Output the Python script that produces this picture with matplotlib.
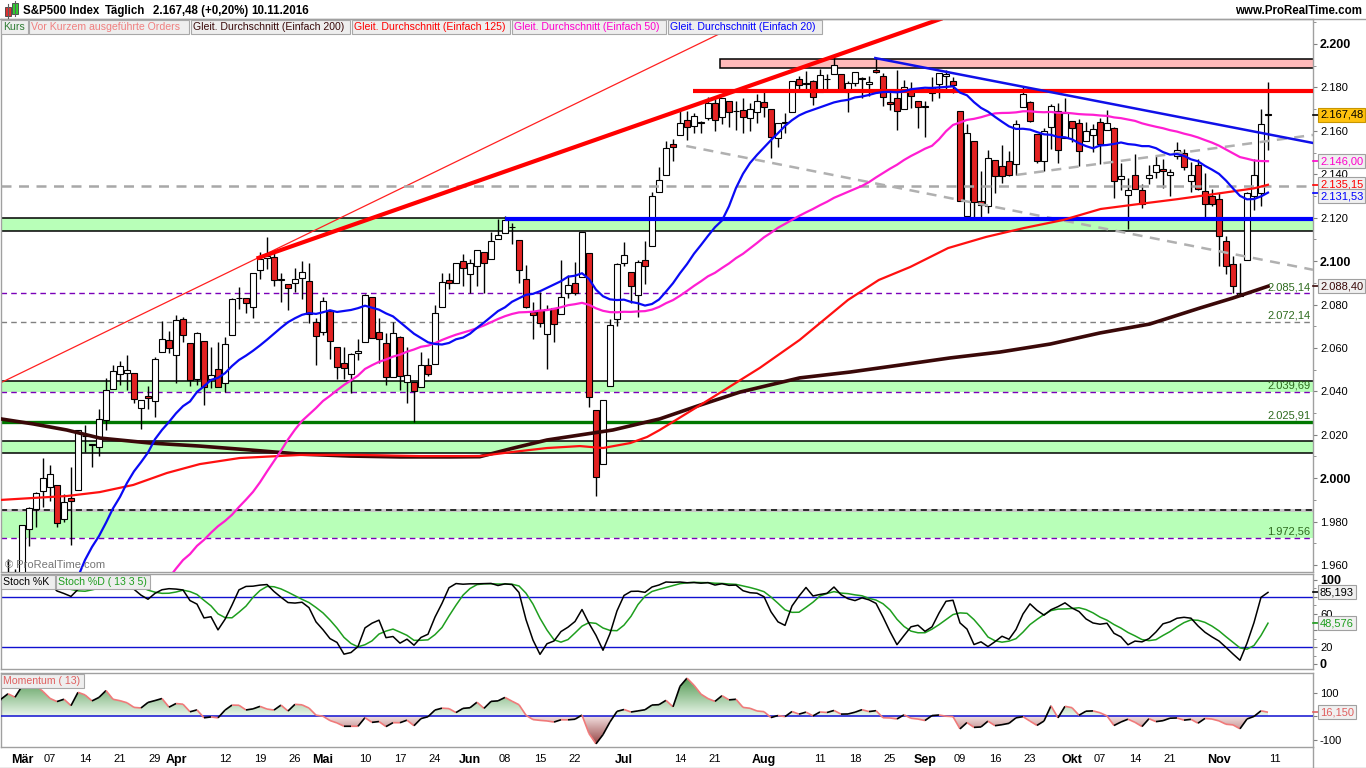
# sp500_chart.py
import numpy as np
import pandas as pd
import matplotlib
matplotlib.use("Agg")
import matplotlib.pyplot as plt
import matplotlib.transforms as mtransforms
from matplotlib.collections import LineCollection
from matplotlib.colors import LinearSegmentedColormap
from matplotlib.patches import PathPatch, Rectangle
from matplotlib.path import Path

plt.rcParams["font.family"] = ["Liberation Sans", "DejaVu Sans"]

W, H = 1366, 768

# =============================
# Kursdaten S&P 500 (Eröffnung, Hoch, Tief, Schluss)
# =============================
jan_close = [2012.66, 2016.71, 1990.26, 1943.09, 1922.03, 1923.67, 1938.68, 1890.28,
             1921.84, 1880.33, 1881.33, 1859.33, 1868.99, 1906.90, 1877.08, 1903.63,
             1882.95, 1893.36, 1940.24]

feb_ohlc = [
    (1936.94, 1947.20, 1920.03, 1939.38), (1935.26, 1935.26, 1897.29, 1903.03),
    (1907.07, 1918.01, 1872.23, 1912.53), (1911.67, 1927.35, 1900.52, 1915.45),
    (1913.07, 1913.07, 1872.65, 1880.05), (1873.25, 1873.25, 1828.46, 1853.44),
    (1848.46, 1868.25, 1834.94, 1852.21), (1857.10, 1881.60, 1850.32, 1851.86),
    (1847.00, 1847.00, 1810.10, 1829.08), (1833.40, 1864.78, 1833.40, 1864.78),
    (1871.44, 1895.77, 1871.44, 1895.58), (1898.80, 1930.68, 1898.80, 1926.82),
    (1927.57, 1930.00, 1915.09, 1917.83), (1916.74, 1918.78, 1902.17, 1917.78),
    (1924.44, 1946.70, 1924.44, 1945.50), (1942.38, 1942.38, 1919.44, 1921.27),
    (1917.56, 1932.08, 1891.00, 1929.80), (1931.87, 1951.83, 1925.41, 1951.70),
    (1954.95, 1962.96, 1945.78, 1948.05), (1947.13, 1958.27, 1931.81, 1932.23),
]
mar_ohlc = [
    (1937.09, 1978.35, 1937.09, 1978.35), (1976.60, 1986.51, 1968.80, 1986.45),
    (1985.60, 1993.69, 1977.37, 1993.40), (1994.01, 2009.13, 1986.77, 1999.99),
    (1996.11, 2006.12, 1989.38, 2001.76), (1996.88, 1996.88, 1977.43, 1979.26),
    (1981.44, 1992.69, 1979.84, 1989.26), (1990.97, 2005.08, 1969.25, 1989.57),
    (1994.71, 2022.37, 1994.71, 2022.19), (2019.27, 2024.57, 2012.05, 2019.64),
    (2015.27, 2015.94, 2005.23, 2015.93), (2014.24, 2032.02, 2010.04, 2027.22),
    (2026.90, 2046.24, 2022.16, 2040.59), (2041.16, 2052.36, 2041.16, 2049.58),
    (2047.88, 2053.91, 2043.14, 2051.60), (2048.64, 2056.60, 2040.57, 2049.80),
    (2048.55, 2048.55, 2034.86, 2036.71), (2032.48, 2036.04, 2022.49, 2035.94),
    (2037.89, 2042.67, 2031.96, 2037.05), (2035.75, 2055.91, 2028.31, 2055.01),
    (2058.27, 2072.21, 2058.27, 2063.95), (2063.77, 2067.92, 2057.46, 2059.74),
]
apr_ohlc = [
    (2056.62, 2075.07, 2043.98, 2072.78), (2073.19, 2074.02, 2062.57, 2066.13),
    (2062.50, 2062.50, 2042.56, 2045.17), (2045.56, 2067.33, 2043.09, 2066.66),
    (2063.01, 2063.01, 2033.80, 2041.91), (2045.54, 2060.63, 2041.69, 2047.60),
    (2050.23, 2062.93, 2041.88, 2041.99), (2043.72, 2065.05, 2039.74, 2061.72),
    (2065.92, 2083.18, 2065.92, 2082.42), (2082.89, 2087.84, 2078.13, 2082.78),
    (2083.10, 2083.22, 2076.31, 2080.73), (2078.83, 2094.66, 2073.65, 2094.34),
    (2096.05, 2104.05, 2091.68, 2100.80), (2101.52, 2111.05, 2096.32, 2102.40),
    (2102.09, 2103.78, 2088.52, 2091.48), (2091.49, 2094.32, 2081.20, 2091.58),
    (2089.37, 2089.37, 2077.52, 2087.79), (2089.84, 2096.87, 2085.80, 2091.70),
    (2092.33, 2099.89, 2082.31, 2095.15), (2090.93, 2099.30, 2071.62, 2075.81),
    (2071.82, 2073.85, 2052.28, 2065.30),
]
may_ohlc = [
    (2067.17, 2083.42, 2066.11, 2081.43), (2077.18, 2077.18, 2054.89, 2063.37),
    (2060.30, 2060.30, 2045.55, 2051.12), (2052.95, 2060.23, 2045.77, 2050.63),
    (2047.77, 2057.72, 2039.45, 2057.14), (2057.55, 2064.15, 2054.31, 2058.69),
    (2062.63, 2084.87, 2062.63, 2084.39), (2083.29, 2083.29, 2064.46, 2064.46),
    (2067.17, 2073.99, 2053.13, 2064.11), (2062.50, 2066.79, 2043.13, 2046.61),
    (2046.53, 2071.88, 2046.53, 2066.66), (2065.04, 2065.69, 2040.82, 2047.21),
    (2044.38, 2060.61, 2034.49, 2047.63), (2044.21, 2044.21, 2025.91, 2040.04),
    (2041.88, 2058.35, 2041.88, 2052.32), (2052.23, 2055.58, 2047.26, 2048.04),
    (2052.65, 2079.67, 2052.65, 2076.06), (2078.93, 2094.73, 2078.93, 2090.54),
    (2091.44, 2094.30, 2087.08, 2090.10), (2090.06, 2099.06, 2090.06, 2099.06),
    (2100.13, 2103.48, 2088.66, 2096.95),
]
jun_ohlc = [
    (2093.94, 2100.97, 2085.10, 2099.33), (2097.71, 2105.26, 2088.59, 2105.26),
    (2104.07, 2104.07, 2085.36, 2099.13), (2100.83, 2113.36, 2100.83, 2109.41),
    (2110.18, 2119.22, 2110.18, 2112.13), (2112.71, 2120.55, 2112.71, 2119.12),
    (2115.65, 2117.64, 2107.73, 2115.48), (2109.57, 2109.57, 2089.96, 2096.07),
    (2091.75, 2098.12, 2078.46, 2079.06), (2076.65, 2081.30, 2064.10, 2075.32),
    (2077.60, 2085.65, 2069.80, 2071.50), (2066.36, 2079.62, 2050.37, 2077.99),
    (2078.20, 2078.20, 2062.84, 2071.22), (2075.58, 2100.66, 2075.58, 2083.25),
    (2085.19, 2093.66, 2083.02, 2088.90), (2089.75, 2099.71, 2084.36, 2085.45),
    (2092.80, 2113.32, 2092.80, 2113.32), (2103.81, 2103.81, 2032.57, 2037.41),
    (2031.45, 2031.45, 1991.68, 2000.54), (2006.67, 2036.09, 2006.67, 2036.09),
    (2042.69, 2073.13, 2042.69, 2070.77), (2073.17, 2098.94, 2070.00, 2098.86),
]
jul_ohlc = [
    (2099.34, 2108.71, 2097.90, 2102.95), (2095.05, 2095.05, 2080.86, 2088.55),
    (2084.43, 2100.72, 2074.02, 2099.73), (2100.42, 2109.08, 2089.39, 2097.90),
    (2106.97, 2131.71, 2106.97, 2129.90), (2131.72, 2143.16, 2131.72, 2137.16),
    (2139.50, 2155.40, 2139.50, 2152.14), (2153.81, 2156.45, 2146.21, 2152.43),
    (2157.88, 2168.99, 2157.88, 2163.75), (2165.13, 2169.05, 2155.79, 2161.74),
    (2162.04, 2168.35, 2159.07, 2166.89), (2163.79, 2164.63, 2159.01, 2163.78),
    (2166.10, 2175.63, 2164.89, 2173.02), (2172.91, 2174.56, 2159.75, 2165.17),
    (2166.47, 2175.11, 2163.24, 2175.03), (2173.71, 2173.71, 2161.95, 2168.48),
    (2168.97, 2173.54, 2160.18, 2169.18), (2169.81, 2174.98, 2159.07, 2166.58),
    (2166.05, 2172.85, 2159.74, 2170.06), (2168.83, 2177.09, 2163.49, 2173.60),
]
aug_ohlc = [
    (2173.15, 2178.29, 2166.21, 2170.84), (2169.94, 2170.20, 2147.58, 2157.03),
    (2156.81, 2163.79, 2152.56, 2163.79), (2163.51, 2168.19, 2159.07, 2164.25),
    (2168.79, 2182.87, 2168.79, 2182.87), (2183.76, 2185.44, 2177.85, 2180.89),
    (2182.24, 2187.66, 2178.61, 2181.74), (2182.81, 2183.41, 2172.00, 2175.49),
    (2177.97, 2188.45, 2177.97, 2185.79), (2183.74, 2186.28, 2179.42, 2184.05),
    (2186.08, 2193.81, 2186.08, 2190.15), (2186.24, 2186.24, 2178.14, 2178.15),
    (2177.84, 2183.08, 2168.50, 2182.22), (2181.90, 2187.03, 2180.46, 2187.02),
    (2184.24, 2185.00, 2175.13, 2183.87), (2181.58, 2185.15, 2175.96, 2182.64),
    (2187.81, 2193.42, 2186.80, 2186.90), (2185.09, 2186.66, 2171.25, 2175.44),
    (2173.29, 2179.00, 2169.74, 2172.47), (2175.10, 2187.94, 2160.39, 2169.04),
    (2170.19, 2183.48, 2170.19, 2180.38), (2179.45, 2182.27, 2170.41, 2176.12),
    (2173.56, 2173.79, 2161.35, 2170.95),
]
sep_ohlc = [
    (2171.33, 2173.56, 2157.09, 2170.86), (2177.49, 2184.87, 2173.59, 2179.98),
    (2181.61, 2186.57, 2175.10, 2186.48), (2185.17, 2187.87, 2179.07, 2186.16),
    (2182.76, 2184.94, 2177.49, 2181.30), (2169.08, 2169.08, 2127.81, 2127.81),
    (2120.86, 2163.30, 2119.12, 2159.04), (2155.40, 2155.40, 2120.07, 2127.02),
    (2127.86, 2141.33, 2119.90, 2125.77), (2125.36, 2151.31, 2122.36, 2147.26),
    (2146.48, 2146.48, 2131.20, 2139.16), (2143.99, 2153.61, 2135.91, 2139.12),
    (2145.94, 2150.80, 2139.17, 2139.76), (2144.58, 2165.11, 2139.57, 2163.12),
    (2170.94, 2179.99, 2170.94, 2177.18), (2173.29, 2173.75, 2163.97, 2164.69),
    (2158.54, 2158.54, 2145.04, 2146.10), (2146.04, 2161.13, 2141.55, 2159.93),
    (2161.85, 2172.40, 2151.79, 2171.37), (2168.90, 2172.67, 2145.20, 2151.13),
    (2156.51, 2175.30, 2156.51, 2168.27),
]
oct_ohlc = [
    (2164.33, 2164.41, 2154.77, 2161.20), (2163.37, 2165.46, 2144.01, 2150.49),
    (2155.15, 2163.95, 2155.15, 2159.73), (2158.22, 2162.93, 2150.28, 2160.77),
    (2164.19, 2165.86, 2144.85, 2153.74), (2160.39, 2169.60, 2160.39, 2163.66),
    (2161.35, 2161.56, 2128.84, 2136.73), (2137.67, 2145.36, 2132.77, 2139.18),
    (2130.26, 2138.19, 2114.72, 2132.55), (2139.68, 2149.19, 2132.98, 2132.98),
    (2132.95, 2135.61, 2124.43, 2126.50), (2138.31, 2144.38, 2135.49, 2139.60),
    (2140.81, 2148.44, 2138.15, 2144.29), (2142.51, 2147.18, 2133.44, 2141.34),
    (2139.43, 2142.63, 2130.09, 2141.16), (2148.50, 2154.79, 2146.91, 2151.33),
    (2149.72, 2151.44, 2141.93, 2143.16), (2136.97, 2145.73, 2131.59, 2139.43),
    (2144.06, 2147.13, 2132.52, 2133.04), (2132.23, 2140.72, 2119.36, 2126.41),
    (2129.78, 2133.25, 2125.53, 2126.15),
]
nov_ohlc = [
    (2128.68, 2131.45, 2097.85, 2111.72), (2109.43, 2111.76, 2094.00, 2097.94),
    (2098.80, 2102.56, 2085.23, 2088.66), (2083.79, 2099.07, 2083.79, 2085.18),
    (2100.59, 2132.00, 2100.59, 2131.52), (2129.92, 2146.87, 2123.56, 2139.56),
    (2131.56, 2170.10, 2125.35, 2163.26), (2167.49, 2182.30, 2151.17, 2167.48),
]

sma125_x = [-3, 1.6, 6.4, 11.1, 15.9, 20.7, 25.4, 31.1, 39.7, 48.3, 56.9, 65.4, 70.1, 75,
            79.7, 83, 86.9, 89.3, 91.1, 96.9, 105.4, 111.1, 118, 122.4, 126.9, 132.3,
            137.7, 143.1, 148.7, 154.1, 159.6, 165, 170.6, 176, 178]
sma125_v = [1990.0, 1990.9, 1991.8, 1993.6, 1996.9, 2002.4, 2006.5, 2009.3, 2010.7, 2010.7,
            2010.2, 2010.2, 2012.1, 2013.9, 2014.8, 2013.9, 2016.2, 2019.0, 2022.2, 2033.7,
            2050.8, 2063.7, 2082.1, 2091.3, 2097.3, 2106.0, 2111.1, 2115.2, 2118.9, 2124.0,
            2126.3, 2128.5, 2131.0, 2133.5, 2135.15]
sma200_x = [-3, 1.6, 6.4, 11.1, 18.3, 25.4, 32.6, 39.7, 46.9, 54, 61.1, 65.4, 70.1, 75,
            79.7, 84.4, 91.1, 96.9, 102.6, 111.1, 118.3, 125.4, 132.6, 139.7, 146.9, 154,
            161.1, 168.3, 173, 178]
sma200_v = [2027.3, 2025.0, 2022.2, 2018.5, 2016.2, 2014.8, 2013.0, 2011.1, 2010.2, 2009.8,
            2009.8, 2009.9, 2013.8, 2017.6, 2019.9, 2022.2, 2027.3, 2033.7, 2039.7, 2046.2,
            2048.9, 2052.1, 2055.4, 2058.1, 2061.8, 2066.9, 2071.0, 2078.4, 2083.0, 2088.4]

# Zonen und Linien
green_zones = [(2113.8, 2119.8), (2039.69, 2044.9), (2011.5, 2017.1), (1972.56, 1985.3)]
pink_zone = (99.7, 2188.9, 2193.1)
resist_red = (95.9, 2178.2)
support_blue = (69, 2119.4)
level_lines = [2085.14, 2072.14, 2039.69, 2025.91, 1972.56]
trend_thin_red = ([-3.14, 104.0], [2043.8, 2211.5])
trend_thick_red = ([33.8, 131.2], [2101.5, 2211.5])
trend_blue = ([121.9, 184.43], [2193.5, 2154.4])
trend_gray_down = ([94.9, 184.43], [2153.0, 2096.0])
trend_gray_up = ([142.1, 184.43], [2139.7, 2158.1])
gray_level = 2134.8

tick_dates = ["2016-03-01", "2016-03-07", "2016-03-14", "2016-03-21", "2016-03-29",
              "2016-04-01", "2016-04-12", "2016-04-19", "2016-04-26", "2016-05-02",
              "2016-05-10", "2016-05-17", "2016-05-24", "2016-06-01", "2016-06-08",
              "2016-06-15", "2016-06-22", "2016-07-01", "2016-07-14", "2016-07-21",
              "2016-08-01", "2016-08-11", "2016-08-18", "2016-08-25", "2016-09-01",
              "2016-09-09", "2016-09-16", "2016-09-23", "2016-10-03", "2016-10-07",
              "2016-10-14", "2016-10-21", "2016-11-01", "2016-11-11"]
tick_labels = ["Mär", "07", "14", "21", "29", "Apr", "12", "19", "26", "Mai", "10", "17",
               "24", "Jun", "08", "15", "22", "Jul", "14", "21", "Aug", "11", "18", "25",
               "Sep", "09", "16", "23", "Okt", "07", "14", "21", "Nov", "11"]
MONTHS = {"Mär", "Apr", "Mai", "Jun", "Jul", "Aug", "Sep", "Okt", "Nov"}


def de(v, nd=2):
    # ProRealTime schneidet ab statt zu runden
    f = 10 ** nd
    v = np.floor(v * f + 1e-6) / f
    s = f"{v:,.{nd}f}"
    return s.replace(",", "X").replace(".", ",").replace("X", ".")


# =============================
# Aufbereitung
# =============================
ohlc = np.array(feb_ohlc + mar_ohlc + apr_ohlc + may_ohlc + jun_ohlc + jul_ohlc
                + aug_ohlc + sep_ohlc + oct_ohlc + nov_ohlc)
op, hi, lo, cl = ohlc.T
n_pre = len(feb_ohlc)
xi = np.arange(len(ohlc)) - n_pre

holidays = pd.to_datetime(["2016-02-15", "2016-03-25", "2016-05-30", "2016-07-04", "2016-09-05"])
days = pd.bdate_range("2016-02-01", "2016-11-11")
days = days[~days.isin(holidays)]
day_pos = pd.Series(np.arange(len(days)) - n_pre, index=days)

closes_all = pd.Series(np.concatenate([jan_close, cl]))
nj = len(jan_close)
sma20 = closes_all.rolling(20).mean().to_numpy()[nj:]
sma50 = closes_all.rolling(50).mean().to_numpy()[nj:]
mom = (closes_all - closes_all.shift(13)).to_numpy()[nj:]

hh = pd.Series(hi).rolling(13).max()
ll = pd.Series(lo).rolling(13).min()
raw = 100 * (pd.Series(cl) - ll) / (hh - ll)
stoch_k = raw.rolling(3).mean()
stoch_d = stoch_k.rolling(5).mean()
stoch_k, stoch_d = stoch_k.to_numpy(), stoch_d.to_numpy()

# =============================
# Figur
# =============================
fig = plt.figure(figsize=(W / 100, H / 100), dpi=100)
fig.patch.set_facecolor("white")


def pbox(x0, y0, x1, y1):
    return [x0 / W, 1 - y1 / H, (x1 - x0) / W, (y1 - y0) / H]


ax1 = fig.add_axes(pbox(1, 19, 1313, 572))
ax2 = fig.add_axes(pbox(1, 574, 1313, 669), sharex=ax1)
ax3 = fig.add_axes(pbox(1, 673, 1313, 747), sharex=ax1)
x_lo, x_hi = -3.0, 184.43

for ax in (ax1, ax2, ax3):
    for sp in ax.spines.values():
        sp.set_color("#A0A0A0")
        sp.set_linewidth(1)
    ax.yaxis.tick_right()
    ax.tick_params(axis="y", which="both", direction="out", color="#808080",
                   labelsize=8, pad=2, length=3)
    ax.tick_params(axis="y", which="minor", length=2)
    ax.tick_params(axis="x", length=0)
ax1.tick_params(axis="x", labelbottom=False)
ax2.tick_params(axis="x", labelbottom=False)

# --- Hauptchart ---
for z_lo, z_hi in green_zones:
    ax1.axhspan(z_lo, z_hi, color="#B8FFB8", lw=0, zorder=1)
for yv in (2113.8, 2119.8, 2044.9, 2011.5, 2017.1):
    ax1.axhline(yv, color="black", lw=1.1, zorder=1.5)
ax1.axhline(1985.3, color="#C8C8C8", lw=2.2, zorder=1.5)
ax1.axhline(1985.3, color="black", lw=1.1, dashes=(4, 3), zorder=1.6)
for yv in (2085.14, 2039.69, 1972.56):
    ax1.axhline(yv, color="#7A00B8", lw=1.0, dashes=(4, 3), zorder=1.7)
ax1.axhline(2072.14, color="#808080", lw=1.0, dashes=(4, 3), zorder=1.7)
ax1.axhline(2025.91, color="#007800", lw=2.4, zorder=1.7)

ax1.add_patch(Rectangle((pink_zone[0], pink_zone[1]), x_hi + 5 - pink_zone[0],
                        pink_zone[2] - pink_zone[1], facecolor="#FFBABA",
                        edgecolor="black", lw=1.1, zorder=1.5))

ax1.plot(*trend_thin_red, color="#FF2020", lw=0.9, zorder=2)

# Kerzen
up = cl >= op
body_lo = np.minimum(op, cl)
body_h = np.maximum(np.abs(cl - op), 0.35)
ax1.vlines(xi, lo, hi, color="black", lw=1.0, zorder=3)
ax1.bar(xi, body_h, bottom=body_lo, width=0.72, color=np.where(up, "white", "#E32222"),
        edgecolor="black", lw=0.8, zorder=3.5)

ax1.axhline(gray_level, color="#A8A8A8", lw=1.8, dashes=(4, 3), zorder=4)
ax1.plot(*trend_gray_down, color="#B0B0B0", lw=1.8, dashes=(4, 3), zorder=4)
ax1.plot(*trend_gray_up, color="#B0B0B0", lw=1.8, dashes=(4, 3), zorder=4)
ax1.hlines(resist_red[1], resist_red[0], x_hi, color="#FF0000", lw=3, zorder=4)
ax1.hlines(support_blue[1], support_blue[0], x_hi, color="#0000FF", lw=3, zorder=4)
ax1.plot(*trend_thick_red, color="#FF0000", lw=3, zorder=4)
ax1.plot(*trend_blue, color="#1010E8", lw=1.8, zorder=4)

ax1.plot(sma200_x, sma200_v, color="#3A0808", lw=2.6, zorder=5)
ax1.plot(sma125_x, sma125_v, color="#FF1010", lw=1.6, zorder=5)
ax1.plot(xi, sma50, color="#FF1ED2", lw=1.6, zorder=5)
ax1.plot(xi, sma20, color="#0A0AF5", lw=1.6, zorder=5)

ax1.set_xlim(x_lo, x_hi)
ax1.set_ylim(1956.8, 2211.5)
pt = np.arange(1960, 2201, 20)
ax1.set_yticks(pt)
lbls = ax1.set_yticklabels([de(v, 0) for v in pt])
for t, v in zip(lbls, pt):
    if v % 100 == 0:
        t.set_fontweight("bold")
        t.set_fontsize(9)
ax1.set_yticks(np.arange(1960, 2211, 10), minor=True)

lvl_tr = mtransforms.blended_transform_factory(ax1.transAxes, ax1.transData)
for yv in level_lines:
    ax1.text(0.998, yv + 0.6, de(yv), transform=lvl_tr, ha="right", va="bottom",
             fontsize=8, color="#2E6B1E", zorder=6)

ax1.text(4 / 1312, 1960.0, "© ProRealTime.com", transform=lvl_tr, fontsize=8,
         color="#767676", va="center", zorder=6)


def value_tag(ax, yv, text, color, face="#F0F0F0", edge="#A0A0A0", ty=None):
    tr = mtransforms.blended_transform_factory(ax.transAxes, ax.transData)
    ax.text(1.0, yv if ty is None else ty, text,
            transform=mtransforms.offset_copy(tr, fig=fig, x=7, units="dots"),
            ha="left", va="center", fontsize=8, color=color, clip_on=False, zorder=10,
            bbox=dict(boxstyle="square,pad=0.18", facecolor=face, edgecolor=edge, lw=0.8))
    ax.plot([1.0, 1.0 + 5 / 1312], [yv, yv], transform=tr, color=color, lw=1.2,
            clip_on=False, zorder=9)


value_tag(ax1, cl[-1], de(cl[-1]), "black", face="#FFC20E", edge="#C89600")
value_tag(ax1, sma50[-1], de(sma50[-1]), "#FF00CC")
value_tag(ax1, sma125_v[-1], de(sma125_v[-1]), "#FF0000", ty=sma125_v[-1] + 0.3)
value_tag(ax1, sma20[-1], de(sma20[-1]), "#0000FF", ty=sma20[-1] - 1.6)
value_tag(ax1, sma200_v[-1], de(sma200_v[-1]), "#3A0808")

# --- Stochastik ---
ax2.axhline(80, color="#1010D0", lw=1.0)
ax2.axhline(20, color="#1010D0", lw=1.0)
ax2.plot(xi, stoch_d, color="#1E9E1E", lw=1.1, zorder=3)
ax2.plot(xi, stoch_k, color="black", lw=1.1, zorder=4)
ax2.set_ylim(-5.95, 107.1)
st = [0, 20, 40, 60, 80, 100]
ax2.set_yticks(st)
st_lbl = ["0", "20", "", "60", "", "100"]   # 40 und 80 liegen unter den Wert-Boxen
for t, v in zip(ax2.set_yticklabels(st_lbl), st):
    if v in (0, 100):
        t.set_fontweight("bold")
        t.set_fontsize(9)
ax2.set_yticks(np.arange(0, 101, 10), minor=True)
value_tag(ax2, stoch_k[-1], de(stoch_k[-1], 3), "black")
value_tag(ax2, stoch_d[-1], de(stoch_d[-1], 3), "#1E9E1E")

# --- Momentum ---
valid = ~np.isnan(mom)
xv, mv = xi[valid].astype(float), mom[valid]
green_cm = LinearSegmentedColormap.from_list("g", ["#EAF6EA", "#3C8C3C"])
red_cm = LinearSegmentedColormap.from_list("r", ["#F3E0E0", "#8C3434"])
m_lo, m_hi = -131.9, 183.0


def grad_fill(ax, positive):
    where = mv >= 0 if positive else mv <= 0
    coll = ax.fill_between(xv, 0, mv, where=where, interpolate=True,
                           facecolor="none", edgecolor="none")
    path = Path.make_compound_path(*coll.get_paths())
    patch = PathPatch(path, transform=ax.transData, facecolor="none", edgecolor="none")
    ax.add_patch(patch)
    grad = np.linspace(0, 1, 256).reshape(-1, 1)
    if positive:
        im = ax.imshow(grad, extent=(xv[0], xv[-1], 0, m_hi), origin="lower",
                       aspect="auto", cmap=green_cm, zorder=1)
    else:
        im = ax.imshow(grad[::-1], extent=(xv[0], xv[-1], m_lo, 0), origin="lower",
                       aspect="auto", cmap=red_cm, zorder=1)
    im.set_clip_path(patch)


grad_fill(ax3, True)
grad_fill(ax3, False)
ax3.axhline(0, color="#1010D0", lw=1.1, zorder=3)
segs = np.stack([np.column_stack([xv[:-1], mv[:-1]]), np.column_stack([xv[1:], mv[1:]])], axis=1)
seg_cols = np.where(np.diff(mv) >= 0, "black", "#F07A7A")
ax3.add_collection(LineCollection(segs, colors=seg_cols, linewidths=1.2, zorder=4))
ax3.set_xlim(x_lo, x_hi)
ax3.set_ylim(m_lo, m_hi)
ax3.set_yticks([-100, 0, 100])
ax3.set_yticklabels(["-100", "", "100"])
value_tag(ax3, mv[-1], de(mv[-1], 3), "#E06060")

tick_x = [day_pos[pd.Timestamp(d)] for d in tick_dates]
ax3.set_xticks(tick_x)
xl = ax3.set_xticklabels(tick_labels)
for t in xl:
    if t.get_text() in MONTHS:
        t.set_fontweight("bold")
        t.set_fontsize(9)
    else:
        t.set_fontsize(8)
ax3.tick_params(axis="x", pad=5)
ax1.set_xlim(x_lo, x_hi)

# =============================
# Kopfzeile, Legenden
# =============================
fig.add_artist(plt.Line2D([0, 1], [1 - 19 / H, 1 - 19 / H], transform=fig.transFigure,
                          color="#A0A0A0", lw=1))
fig.add_artist(plt.Line2D([1313 / W, 1313 / W], [0, 1 - 747 / H], transform=fig.transFigure,
                          color="#A0A0A0", lw=1))
fig.add_artist(plt.Line2D([0, 1], [0.5 / H, 0.5 / H], transform=fig.transFigure,
                          color="#A0A0A0", lw=1))

# kleines Kerzen-Symbol
fig.add_artist(plt.Line2D([8 / W, 8 / W], [1 - 18 / H, 1 - 4 / H], transform=fig.transFigure,
                          color="#606060", lw=0.8))
fig.add_artist(Rectangle((5 / W, 1 - 16 / H), 6 / W, 9 / H, transform=fig.transFigure,
                         facecolor="#E03030", edgecolor="#404040", lw=0.6))
fig.add_artist(plt.Line2D([15 / W, 15 / W], [1 - 16 / H, 1 - 1 / H], transform=fig.transFigure,
                          color="#606060", lw=0.8))
fig.add_artist(Rectangle((12 / W, 1 - 14 / H), 6 / W, 11 / H, transform=fig.transFigure,
                         facecolor="#30D030", edgecolor="#404040", lw=0.6))

for xp, txt in [(23, "S&P500 Index"), (105, "Täglich"), (153, "2.167,48 (+0,20%)"),
                (251, "10.11.2016")]:
    fig.text(xp / W, 1 - 11 / H, txt, fontsize=8.3, fontweight="bold", va="center", ha="left")
fig.text(1362 / W, 1 - 11 / H, "www.ProRealTime.com", fontsize=8.3, fontweight="bold",
         va="center", ha="right")


def legend_box(x0, y0, x1, y1, text, color):
    fig.add_artist(Rectangle((x0 / W, 1 - y1 / H), (x1 - x0) / W, (y1 - y0) / H,
                             transform=fig.transFigure, facecolor="#EEEEEE",
                             edgecolor="#A8A8A8", lw=0.8, zorder=20))
    fig.text((x0 + 2) / W, 1 - (y0 + y1) / 2 / H, text, color=color, fontsize=7.6,
             va="center", ha="left", zorder=21)


legend_box(1, 20, 28, 34, "Kurs", "#2E7D32")
legend_box(29, 20, 189, 34, "Vor Kurzem ausgeführte Orders", "#F08080")
legend_box(191, 20, 350, 34, "Gleit. Durchschnitt (Einfach 200)", "#3A0A0A")
legend_box(352, 20, 510, 34, "Gleit. Durchschnitt (Einfach 125)", "#FF0000")
legend_box(512, 20, 666, 34, "Gleit. Durchschnitt (Einfach 50)", "#FF00CC")
legend_box(668, 20, 822, 34, "Gleit. Durchschnitt (Einfach 20)", "#0000FF")
legend_box(1, 575, 55, 589, "Stoch %K", "black")
legend_box(56, 575, 150, 589, "Stoch %D ( 13 3 5)", "#1E9E1E")
legend_box(1, 674, 84, 688, "Momentum ( 13)", "#E06060")

fig.savefig("out.png", dpi=100, facecolor="white")
